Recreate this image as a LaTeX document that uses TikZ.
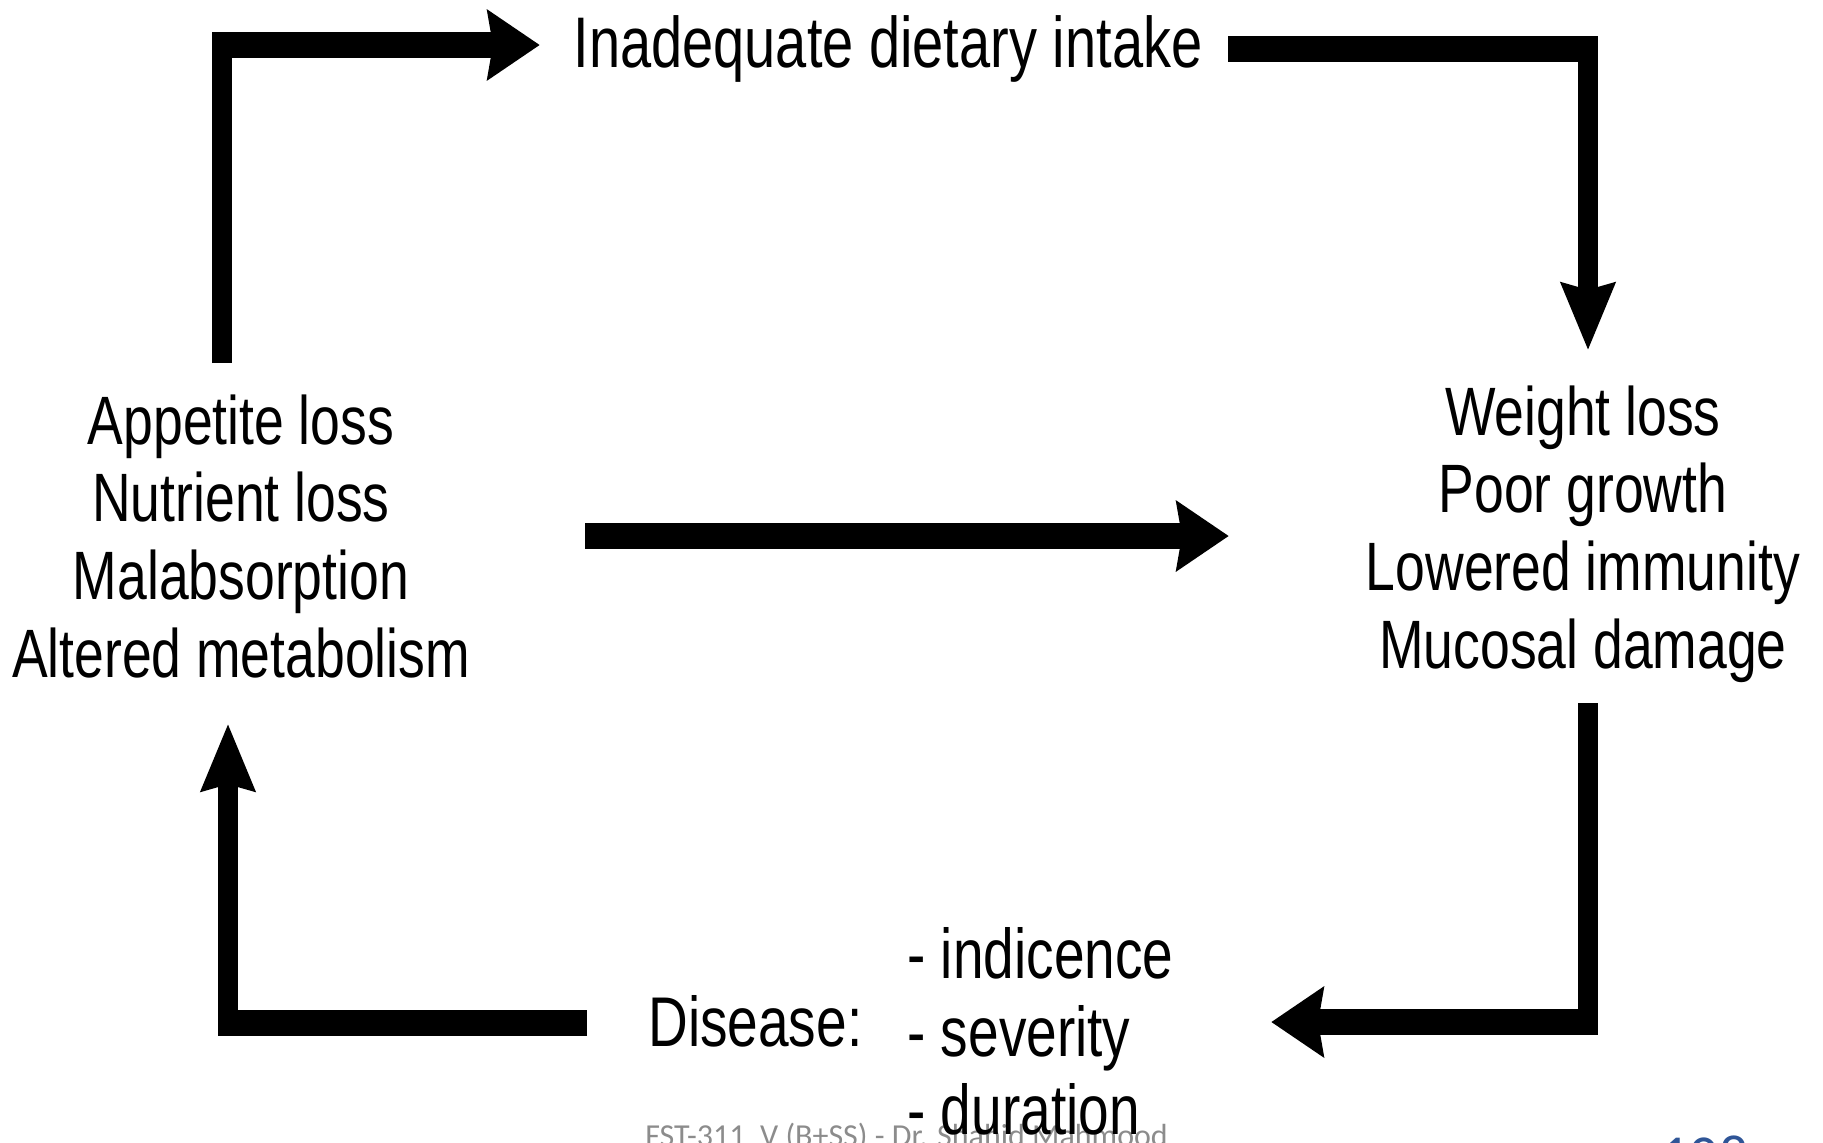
\documentclass[tikz,border=0pt]{standalone}
\usepackage{fontspec}
\setmainfont{Liberation Sans}
\newfontfamily\footfont{Carlito}
\usetikzlibrary{arrows.meta}
\definecolor{footgray}{RGB}{140,140,140}
\definecolor{pageblue}{RGB}{47,85,151}
\tikzset{
  conn/.style={line width=10pt, line join=miter,
    -{Stealth[length=26pt,width=26.5pt,inset=2.5pt]}},
  lbl/.style={inner sep=0pt, font=\fontsize{26.75pt}{30.3pt}\selectfont},
  footlbl/.style={inner sep=0pt, text=footgray, font=\footfont\fontsize{16pt}{19pt}\selectfont},
  pagelbl/.style={inner sep=0pt, text=pageblue, font=\footfont\fontsize{29pt}{34pt}\selectfont},
}
\begin{document}
\begin{tikzpicture}[x=0.5pt,y=-0.5pt]
\useasboundingbox (0,0) rectangle (1823,1142);
\fill[white] (0,0) rectangle (1823,1142);
\node[footlbl, anchor=base west] (footer) at (645,1146) {FST-311 \ V (B+SS) - Dr. Shahid Mahmood};
\node[pagelbl, anchor=base west] (page) at (1660,1175) {108};
\begin{scope}[x=0.5pt, y=-0.390625pt, transform canvas={yscale=1.28}]
  \node[lbl, anchor=base, font=\fontsize{28pt}{31pt}\selectfont] (intake) at (888,67) {Inadequate dietary intake};
  \node[lbl, align=center, anchor=base] (appetite) at (241,677) {Appetite loss\\Nutrient loss\\Malabsorption\\Altered metabolism};
  \node[lbl, align=center, anchor=base] (weight) at (1583,668) {Weight loss\\Poor growth\\Lowered immunity\\Mucosal damage};
  \node[lbl, anchor=base west, font=\fontsize{27.5pt}{30.3pt}\selectfont] (disease) at (648,1046) {Disease:};
  \node[lbl, align=left, anchor=base west, font=\fontsize{27.5pt}{30.3pt}\selectfont] (dlist) at (907,1134) {- indicence\\- severity\\- duration};
  \coordinate (c1s) at (222,363);
  \coordinate (c1e) at (540,45);
  \coordinate (c2s) at (1228,49);
  \coordinate (c2e) at (1588,350);
  \coordinate (c3s) at (585,536);
  \coordinate (c3e) at (1229,536);
  \coordinate (c4s) at (1588,703);
  \coordinate (c4e) at (1271,1022);
  \coordinate (c5s) at (587,1023);
  \coordinate (c5e) at (228,724);
  \draw[conn] (c1s) |- (c1e);
  \draw[conn] (c2s) -| (c2e);
  \draw[conn] (c3s) -- (c3e);
  \draw[conn] (c4s) |- (c4e);
  \draw[conn] (c5s) -| (c5e);
\end{scope}
\end{tikzpicture}
\end{document}
